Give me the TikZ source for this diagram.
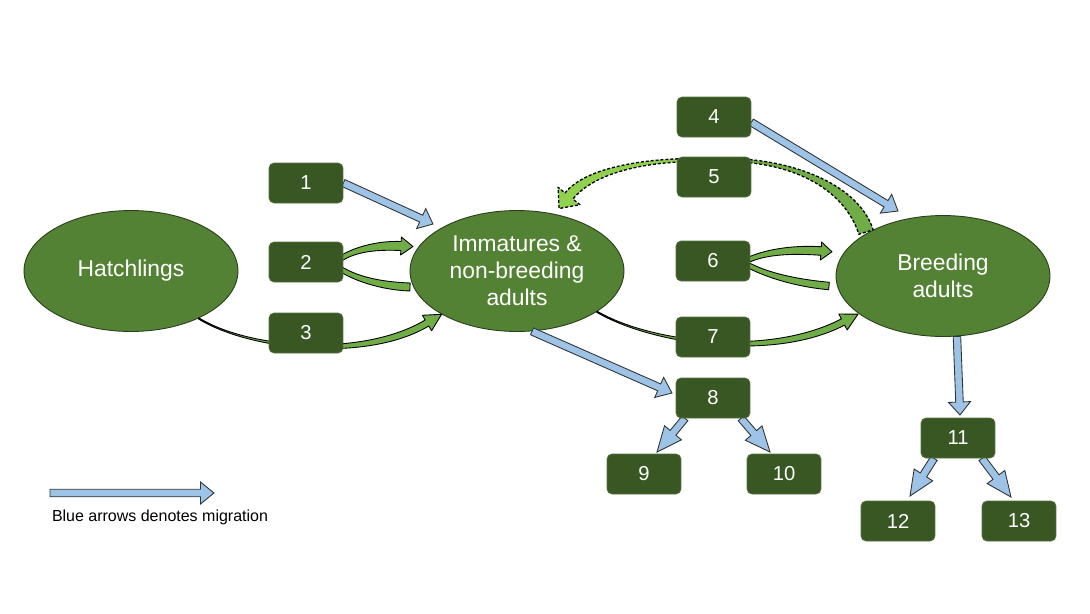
\documentclass[tikz,border=0pt]{standalone}
\usepackage{fontspec}
\setmainfont{Liberation Sans}
\usetikzlibrary{calc,shapes.geometric}
\definecolor{boxg}{HTML}{385723}
\definecolor{ellg}{HTML}{548235}
\definecolor{arrg}{HTML}{70AD47}
\definecolor{arrl}{HTML}{92D050}
\definecolor{migb}{HTML}{9DC3E6}
\definecolor{lineg}{HTML}{2A3F1A}
\pgfdeclarelayer{ell}\pgfdeclarelayer{arr}\pgfsetlayers{ell,arr,main}
% tapered curved arrow: style, P0, P1, P2, P3, start half width, end half width, head half width, head length
\newcommand\taper[9]{%
 \draw[#1] ($(#2)!#6!90:(#3)$)
  .. controls ($(#3)!#6!-90:(#2)$) and ($(#4)!#7!90:(#5)$) ..
  ($(#5)!#7!-90:(#4)$) -- ($(#5)!#8!-90:(#4)$) -- ($(#5)!#9!180:(#4)$)
  -- ($(#5)!#8!90:(#4)$) -- ($(#5)!#7!90:(#4)$)
  .. controls ($(#4)!#7!-90:(#5)$) and ($(#3)!#6!90:(#2)$) ..
  ($(#2)!#6!-90:(#3)$) -- cycle;}
% block arrow for migration: [head length]{from}{to}
\newcommand\mig[3][0.3cm]{%
 \coordinate (neck) at ($(#3)!#1!(#2)$);
 \draw[migarrow] ($(#2)!0.075cm!90:(#3)$) -- ($(neck)!0.075cm!90:(#3)$)
  -- ($(neck)!0.22cm!90:(#3)$) -- (#3) -- ($(neck)!0.22cm!-90:(#3)$)
  -- ($(neck)!0.075cm!-90:(#3)$) -- ($(#2)!0.075cm!-90:(#3)$) -- cycle;}
\begin{document}
\begin{tikzpicture}[x=0.02cm,y=-0.02cm,
  stage/.style={ellipse, fill=ellg, draw=lineg, line width=0.5pt,
    minimum width=4.28cm, minimum height=2.42cm, inner sep=0pt,
    text=white, align=center, font=\fontsize{13}{15.3}\selectfont},
  bx/.style={rectangle, rounded corners=0.1cm, fill=boxg, draw=boxg!85!white,
    line width=0.4pt, minimum width=1.48cm, minimum height=0.8cm, inner sep=0pt,
    text=white, font=\fontsize{11.5}{13}\selectfont},
  greenband/.style={draw=black, fill=arrg, line width=0.5pt, line join=round},
  dashband/.style={draw=black, line width=0.75pt, dash pattern=on 1.7pt off 1.1pt, line join=round},
  migarrow/.style={draw=black!80, fill=migb, line width=0.5pt, line join=miter},
  legendtext/.style={font=\fontsize{9.1}{11}\selectfont, text=black}]
\useasboundingbox (0,0) rectangle (1090,613);

\begin{pgfonlayer}{ell}
\node[stage] (hatch) at (131,271) {Hatchlings};
\node[stage] (imm) at (517,271) {Immatures \&\\non-breeding\\adults};
\node[stage] (br) at (943,276) {Breeding\\adults};
\end{pgfonlayer}

\node[bx] (b1) at (306,183) {1};
\node[bx] (b2) at (306,262) {2};
\node[bx] (b3) at (306,333) {3};
\node[bx] (b4) at (714,117) {4};
\node[bx] (b5) at (714,177) {5};
\node[bx] (b6) at (713,261) {6};
\node[bx] (b7) at (713,337) {7};
\node[bx] (b8) at (713,398) {8};
\node[bx] (b9) at (644,474) {9};
\node[bx] (b10) at (784,474) {10};
\node[bx] (b11) at (958,438) {11};
\node[bx] (b12) at (898,521) {12};
\node[bx] (b13) at (1019,521) {13};

\begin{pgfonlayer}{arr}
% arrow 3
\coordinate (c3a) at (250,350); \coordinate (c3b) at (365,360); \coordinate (c3c) at (427,323);
\taper{greenband}{hatch.-35}{c3a}{c3b}{c3c}{0.012cm}{0.07cm}{0.18cm}{0.34cm}
% arrow 7
\coordinate (c7a) at (650,343); \coordinate (c7b) at (770,360); \coordinate (c7c) at (843,322);
\taper{greenband}{imm.-27}{c7a}{c7b}{c7c}{0.012cm}{0.07cm}{0.18cm}{0.34cm}
% loop 2
\coordinate (l2a0) at (336,262); \coordinate (l2a1) at (352,249);
\coordinate (l2a2) at (378,245); \coordinate (l2a3) at (401,246);
\taper{greenband}{l2a0}{l2a1}{l2a2}{l2a3}{0.05cm}{0.09cm}{0.18cm}{0.24cm}
\coordinate (l2b0) at (336,266); \coordinate (l2b1) at (354,279);
\coordinate (l2b2) at (382,286); \coordinate (l2b3) at (410,287);
\taper{greenband}{l2b0}{l2b1}{l2b2}{l2b3}{0.05cm}{0.08cm}{0.08cm}{0cm}
% loop 6
\coordinate (l6a0) at (746,261); \coordinate (l6a1) at (764,252);
\coordinate (l6a2) at (792,249); \coordinate (l6a3) at (821,251);
\taper{greenband}{l6a0}{l6a1}{l6a2}{l6a3}{0.05cm}{0.085cm}{0.18cm}{0.22cm}
\coordinate (l6b0) at (746,264); \coordinate (l6b1) at (766,275);
\coordinate (l6b2) at (796,283); \coordinate (l6b3) at (829,286);
\taper{greenband}{l6b0}{l6b1}{l6b2}{l6b3}{0.05cm}{0.075cm}{0.075cm}{0cm}
% arrow 5 (dashed)
\coordinate (c5b0) at (725,160); \coordinate (c5b1) at (795,160);
\coordinate (c5b2) at (852,188); \coordinate (c5b3) at (866,232);
\taper{dashband,fill=arrg}{c5b0}{c5b1}{c5b2}{c5b3}{0.03cm}{0.15cm}{0.15cm}{0cm}
\coordinate (c5a0) at (705,160); \coordinate (c5a1) at (640,159);
\coordinate (c5a2) at (588,172); \coordinate (c5a3) at (569,196);
\taper{dashband,fill=arrl}{c5a0}{c5a1}{c5a2}{c5a3}{0.03cm}{0.1cm}{0.28cm}{0.32cm}

% migration arrows
\coordinate (t1) at (433,224); \mig[0.26cm]{b1.east}{t1}
\coordinate (t4) at (898,211); \mig[0.28cm]{b4.-8}{t4}
\coordinate (t8) at (672,393); \mig[0.28cm]{imm.-76}{t8}
\coordinate (s9) at ($(b8.south)+(-28,0)$); \coordinate (t9) at (657,452); \mig[0.5cm]{s9}{t9}
\coordinate (s10) at ($(b8.south)+(28,0)$); \coordinate (t10) at (770,452); \mig[0.5cm]{s10}{t10}
\coordinate (t11) at (960,415); \mig[0.26cm]{br.-77}{t11}
\coordinate (s12) at ($(b11.south)+(-24,0)$); \coordinate (t12) at (910,496); \mig[0.5cm]{s12}{t12}
\coordinate (s13) at ($(b11.south)+(24,0)$); \coordinate (t13) at (1011,497); \mig[0.5cm]{s13}{t13}
% legend
\coordinate (lg1) at (50,493); \coordinate (lg2) at (214,493); \mig[0.27cm]{lg1}{lg2}
\end{pgfonlayer}
\node[legendtext] (legend) at (160,517) {Blue arrows denotes migration};
\end{tikzpicture}
\end{document}
